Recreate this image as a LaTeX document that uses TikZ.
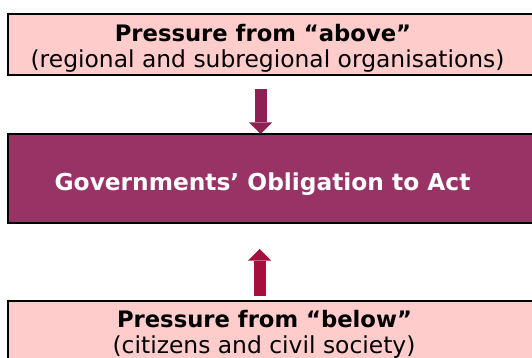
\documentclass[tikz,border=0pt]{standalone}
\usepackage{fontspec}
\setmainfont{DejaVu Sans}
\usetikzlibrary{arrows.meta}
\definecolor{pinkfill}{HTML}{FFCCCC}
\definecolor{plum}{HTML}{993366}
\definecolor{downred}{HTML}{8E2153}
\definecolor{upred}{HTML}{A60E3C}
\tikzset{
  panel/.style={draw=black, line width=2pt, inner sep=0pt, outer sep=0pt, anchor=north west},
  head/.style={anchor=base, inner sep=0pt, font=\fontsize{22.7}{26}\selectfont\bfseries},
  sub/.style={anchor=base, inner sep=0pt, font=\fontsize{23.4}{26}\selectfont},
  push/.style={line width=12pt, -{Triangle[width=23pt,length=11.5pt,line width=0pt]}}
}
\begin{document}
\begin{tikzpicture}[x=1pt,y=-1pt]
  \useasboundingbox (0,0) rectangle (532,358);
  \begin{scope}
    \clip (0,0) rectangle (532,358);
    % three stacked panels, running off the right edge
    \node[panel, fill=pinkfill, minimum width=540pt, minimum height=61pt] (above) at (8,14) {};
    \node[panel, fill=plum, minimum width=540pt, minimum height=89pt] (gov) at (8,134) {};
    \node[panel, fill=pinkfill, minimum width=540pt, minimum height=80pt] (below) at (8,301) {};
    % arrow column
    \coordinate (ax) at (260.5,0);
    \coordinate (bx) at (259.5,0);
    \draw[push, downred, shorten <=14pt] (above.south -| ax) -- (gov.north -| ax);
    \draw[push, upred, shorten <=5pt, shorten >=26pt] (below.north -| bx) -- (gov.south -| bx);
    % labels
    \node[head] (abovehead) at (263,42) {Pressure from “above”};
    \node[sub] (abovesub) at (267.5,67.5) {(regional and subregional organisations)};
    \node[head, font=\fontsize{23.3}{26}\selectfont\bfseries, text=white] (govtxt) at (262.5,190)
      {Governments’ Obligation to Act};
    \node[head] (belowhead) at (264.5,327) {Pressure from “below”};
    \node[sub] (belowsub) at (264,353) {(citizens and civil society)};
  \end{scope}
\end{tikzpicture}
\end{document}
